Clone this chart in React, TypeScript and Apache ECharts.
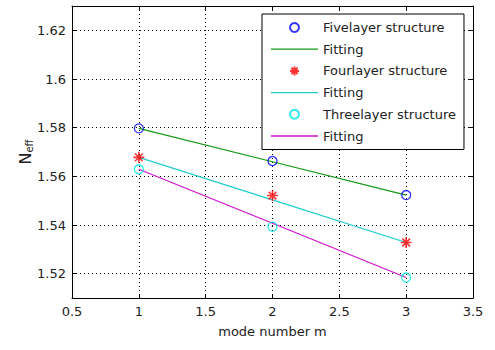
import React, { useEffect, useRef } from "react";
import * as echarts from "echarts";

const modeNumbers = [1, 2, 3];
const fiveLayer = [1.5797, 1.5663, 1.5523];
const fiveFit = [1.5797, 1.566, 1.5523];
const fourLayer = [1.5678, 1.5521, 1.5328];
const fourFit = [1.5678, 1.5503, 1.5328];
const threeLayer = [1.5629, 1.5393, 1.5184];
const threeFit = [1.5629, 1.5407, 1.5184];

const FONT = "DejaVu Sans";
const TXT = "#222";

const pairs = (ys: number[]) => modeNumbers.map((x, i) => [x, ys[i]]);

const asterisk =
  "path://M5 0 L5 10 M0 5 L10 5 M1.5 1.5 L8.5 8.5 M8.5 1.5 L1.5 8.5";
const lineIcon = "path://M0 0 L47 0 L47 1.3 L0 1.3 Z";

export default function App() {
  const ref = useRef<HTMLDivElement>(null);
  useEffect(() => {
    if (!ref.current) return;
    const chart = echarts.init(ref.current, null, { renderer: "svg" });
    const grid = { left: 72, right: 22, top: 6, bottom: 52 };
    const dotted = { show: true, lineStyle: { color: "#000", type: [1, 3] as any, width: 1 } };
    const axisLine = { show: true, lineStyle: { color: "#000", width: 1 } };
    const tick = { show: true, inside: true, length: 4, lineStyle: { color: "#000" } };
    const yFmt = (v: number) => {
      const k = Math.round(v * 100);
      if (k % 2 !== 0) return "";
      return String(+v.toFixed(2));
    };
    chart.setOption({
      animation: false,
      backgroundColor: "#fff",
      textStyle: { fontFamily: FONT },
      grid,
      xAxis: [
        {
          type: "value",
          min: 0.5,
          max: 3.5,
          interval: 0.5,
          axisLine,
          axisTick: tick,
          splitLine: dotted,
          axisLabel: { color: TXT, fontSize: 13, fontFamily: FONT, margin: 7 },
          name: "mode number m",
          nameLocation: "middle",
          nameGap: 27,
          nameTextStyle: { color: TXT, fontSize: 13, fontFamily: FONT },
        },
        {
          type: "value",
          position: "top",
          min: 0.5,
          max: 3.5,
          interval: 0.5,
          axisLine,
          axisTick: tick,
          splitLine: { show: false },
          axisLabel: { show: false },
        },
      ],
      yAxis: [
        {
          type: "value",
          min: 1.51,
          max: 1.63,
          splitNumber: 6,
          axisLine,
          axisTick: tick,
          splitLine: dotted,
          axisLabel: { color: TXT, fontSize: 13, fontFamily: FONT, margin: 6, formatter: yFmt },
          name: "{n|N}{s|eff}",
          nameLocation: "middle",
          nameRotate: 90,
          nameGap: 38,
          nameMoveOverlap: false,
          nameTextStyle: {
            color: TXT,
            fontFamily: FONT,
            rich: {
              n: { fontSize: 16, fontFamily: FONT, color: TXT, lineHeight: 18, verticalAlign: "middle" },
              s: { fontSize: 10, fontFamily: FONT, color: TXT, lineHeight: 4, verticalAlign: "bottom" },
            },
          },
        },
        {
          type: "value",
          position: "right",
          min: 1.51,
          max: 1.63,
          splitNumber: 6,
          axisLine,
          axisTick: tick,
          splitLine: { show: false },
          axisLabel: { show: false },
        },
      ],
      legend: {
        orient: "vertical",
        left: 262,
        top: 14,
        width: 202,
        padding: [7, 8, 7, 9],
        itemWidth: 47,
        itemHeight: 9,
        itemGap: 8.7,
        itemTextGap: 5,
        backgroundColor: "#fff",
        borderColor: "#000",
        borderWidth: 1,
        borderRadius: 0,
        textStyle: { color: TXT, fontSize: 13, fontFamily: FONT },
        formatter: (n: string) => n.trim(),
        data: [
          { name: "Fivelayer structure" },
          { name: "Fitting", icon: lineIcon },
          { name: "Fourlayer structure" },
          { name: "Fitting ", icon: lineIcon },
          { name: "Threelayer structure" },
          { name: "Fitting  ", icon: lineIcon },
        ],
      },
      series: [
        {
          name: "Fitting",
          type: "line",
          data: pairs(fiveFit),
          symbol: "none",
          lineStyle: { color: "#119911", width: 1.2 },
          itemStyle: { color: "#119911" },
          z: 2,
        },
        {
          name: "Fitting ",
          type: "line",
          data: pairs(fourFit),
          symbol: "none",
          lineStyle: { color: "#22cccc", width: 1.2 },
          itemStyle: { color: "#22cccc" },
          z: 2,
        },
        {
          name: "Fitting  ",
          type: "line",
          data: pairs(threeFit),
          symbol: "none",
          lineStyle: { color: "#cc11cc", width: 1.2 },
          itemStyle: { color: "#cc11cc" },
          z: 2,
        },
        {
          name: "Fivelayer structure",
          type: "scatter",
          data: pairs(fiveLayer),
          symbol: "circle",
          symbolSize: 9,
          itemStyle: { color: "rgba(0,0,0,0)", borderColor: "#0000ff", borderWidth: 1.3 },
          z: 3,
        },
        {
          name: "Fourlayer structure",
          type: "scatter",
          data: pairs(fourLayer),
          symbol: asterisk,
          symbolSize: 11,
          itemStyle: { color: "#ff0000", borderColor: "#ff0000", borderWidth: 1.6 },
          z: 3,
        },
        {
          name: "Threelayer structure",
          type: "scatter",
          data: pairs(threeLayer),
          symbol: "circle",
          symbolSize: 9,
          itemStyle: { color: "rgba(0,0,0,0)", borderColor: "#00e5e5", borderWidth: 1.3 },
          z: 3,
        },
      ],
    });
    return () => chart.dispose();
  }, []);
  return (
    <div
      ref={ref}
      style={{ position: "fixed", left: 0, top: 0, width: 495, height: 350 }}
    />
  );
}
